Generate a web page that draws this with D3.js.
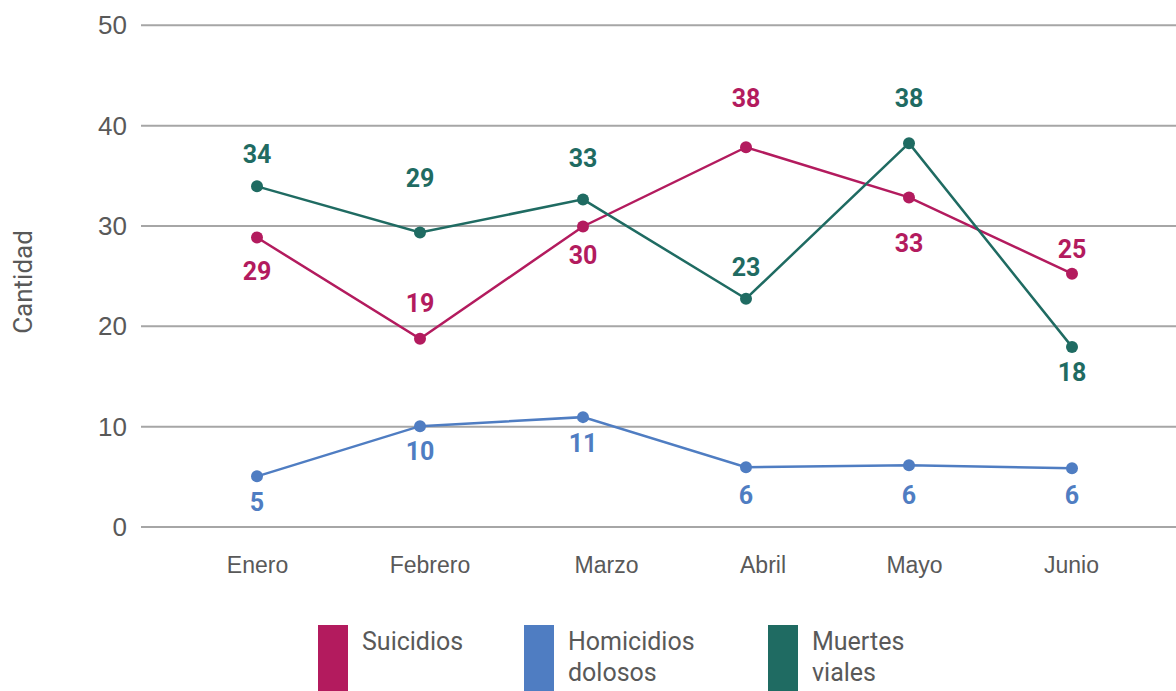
<!DOCTYPE html>
<html>
<head>
<meta charset="utf-8">
<script src="https://cdn.jsdelivr.net/npm/d3@7"></script>
<style>
  body { margin: 0; background: #fff; }
  svg { display: block; font-family: Roboto, "Noto Sans", sans-serif; }
</style>
</head>
<body>
<div id="chart"></div>
<script>
// months and values
let meses = ["Enero", "Febrero", "Marzo", "Abril", "Mayo", "Junio"];
let suicidios = [28.8, 18.7, 29.9, 37.8, 32.8, 25.2];
let homicidios = [5.0, 10.0, 10.9, 5.9, 6.1, 5.8];
let muertesViales = [33.9, 29.3, 32.6, 22.7, 38.2, 17.9];
let yTicks = [0, 10, 20, 30, 40, 50];
let serieNombres = ["Suicidios", "Homicidios dolosos", "Muertes viales"];

// label offsets (px from the dot), kept apart from the data
let labelDy = [
  [34, -36, 29, -49, 46, -24],
  [26, 25, 26, 28, 30, 27],
  [-32, -54, -41, -31, -45, 25]
];
// month labels sit a bit off the dots in the original
let mesShift = [0, 9.5, 23, 16.5, 5, -1];
let colores = ["#b31b5e", "#4f7dc2", "#1f6b62"];

let width = 1176, height = 691;

let svg = d3.select("#chart").append("svg")
  .attr("width", width)
  .attr("height", height);

let x = d3.scalePoint().domain(meses).range([257, 1072]);
let y = d3.scaleLinear().domain([0, 50]).range([526.5, 24.8]);

// gridlines + y tick labels
let yAxis = svg.append("g")
  .attr("transform", "translate(141,0)")
  .call(d3.axisRight(y).tickValues(yTicks).tickSize(width - 141).tickFormat(d3.format("d")));
yAxis.select(".domain").remove();
yAxis.selectAll(".tick line").attr("stroke", "#a6a6a6").attr("stroke-width", 2);
yAxis.selectAll(".tick text")
  .attr("x", -14)
  .attr("dy", "0.35em")
  .attr("text-anchor", "end")
  .attr("fill", "#595959")
  .style("font-size", "26px");

// x labels
let xAxis = svg.append("g")
  .attr("transform", "translate(0,526.5)")
  .call(d3.axisBottom(x).tickSize(0));
xAxis.select(".domain").remove();
xAxis.selectAll(".tick text")
  .attr("x", (d, i) => mesShift[i])
  .attr("y", 46)
  .attr("dy", 0)
  .attr("fill", "#595959")
  .style("font-size", "23px");

svg.append("text")
  .attr("transform", "translate(23,282) rotate(-90)")
  .attr("text-anchor", "middle")
  .attr("dy", "0.35em")
  .attr("fill", "#595959")
  .style("font-size", "26px")
  .text("Cantidad");

let series = [suicidios, homicidios, muertesViales];
let line = d3.line().x((d, i) => x(meses[i])).y(d => y(d));
let fmt = d3.format(".0f");

series.forEach(function(vals, s) {
  let g = svg.append("g");
  g.append("path")
    .datum(vals)
    .attr("d", line)
    .attr("fill", "none")
    .attr("stroke", colores[s])
    .attr("stroke-width", 2.5);
  g.selectAll("circle")
    .data(vals).enter()
    .append("circle")
    .attr("cx", (d, i) => x(meses[i]))
    .attr("cy", d => y(d))
    .attr("r", 6)
    .attr("fill", colores[s]);
  g.selectAll("text")
    .data(vals).enter()
    .append("text")
    .attr("x", (d, i) => x(meses[i]))
    .attr("y", (d, i) => y(d) + labelDy[s][i])
    .attr("dy", "0.35em")
    .attr("text-anchor", "middle")
    .attr("fill", colores[s])
    .style("font-size", "25px")
    .style("font-weight", "bold")
    .text(d => fmt(d));
});

// legend
let legendX = [318, 524, 768];
let legend = svg.append("g");
serieNombres.forEach(function(name, s) {
  legend.append("rect")
    .attr("x", legendX[s])
    .attr("y", 625)
    .attr("width", 30)
    .attr("height", 70)
    .attr("fill", colores[s]);
  let words = name.split(" ");
  let t = legend.append("text")
    .attr("x", legendX[s] + 44)
    .attr("y", 650)
    .attr("fill", "#595959")
    .style("font-size", "25px");
  words.forEach(function(w, k) {
    t.append("tspan")
      .attr("x", legendX[s] + 44)
      .attr("dy", k == 0 ? 0 : 31)
      .text(w);
  });
});
</script>
</body>
</html>
